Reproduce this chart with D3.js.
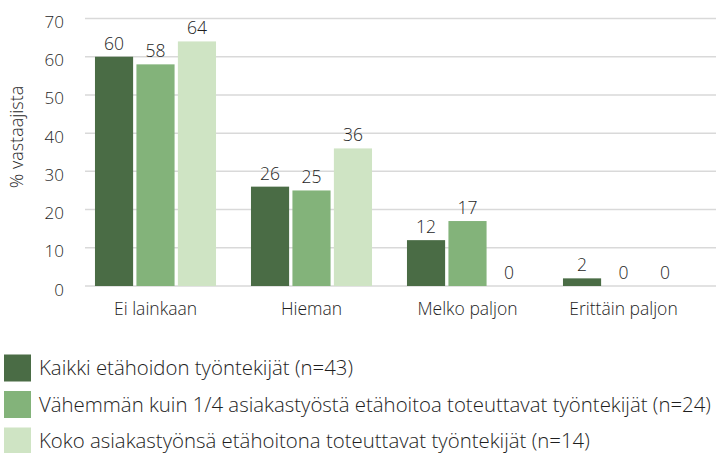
<!DOCTYPE html>
<html>
<head>
<meta charset="utf-8">
<script src="https://cdn.jsdelivr.net/npm/d3@7"></script>
<style>
	body { margin: 0; background: #fff; }
	svg { display: block; font-family: 'Open Sans', 'Liberation Sans', sans-serif; font-weight: 300; }
</style>
</head>
<body>
<div id="chart"></div>
<script>
// Categories on the x axis
const categories = ['Ei lainkaan', 'Hieman', 'Melko paljon', 'Erittäin paljon'];

// Series names (legend)
const seriesNames = [
	'Kaikki etähoidon työntekijät (n=43)',
	'Vähemmän kuin 1/4 asiakastyöstä etähoitoa toteuttavat työntekijät (n=24)',
	'Koko asiakastyönsä etähoitona toteuttavat työntekijät (n=14)'
];

// Values per series, in category order
const kaikki = [60, 26, 12, 2];
const vahemman = [58, 25, 17, 0];
const koko = [64, 36, 0, 0];

const yTicks = [0, 10, 20, 30, 40, 50, 60, 70];

const colors = ['#4a6c45', '#83b37a', '#cfe4c4'];

function createChart() {
	d3.select('#chart').html('');

	const width = 718;
	const height = 453;

	const series = [kaikki, vahemman, koko];
	const rows = categories.map((c, i) => ({
		cat: c,
		vals: series.map((s, j) => ({ key: j, value: s[i] }))
	}));

	const svg = d3
		.select('#chart')
		.append('svg')
		.attr('width', width)
		.attr('height', height);

	// Scales
	const x0 = d3
		.scaleBand()
		.domain(categories)
		.range([77.5, 701.5])
		.paddingInner(0.224)
		.paddingOuter(0.112);

	const x1 = d3
		.scaleBand()
		.domain([0, 1, 2])
		.range([0, x0.bandwidth()])
		.paddingInner(0.08);

	const y = d3.scaleLinear().domain([0, 70]).range([286, 18.5]);

	// Gridlines
	svg.append('g')
		.selectAll('line')
		.data(yTicks)
		.enter()
		.append('line')
		.attr('x1', 85)
		.attr('x2', 716)
		.attr('y1', (d) => y(d))
		.attr('y2', (d) => y(d))
		.attr('stroke', '#d9d9d9')
		.attr('stroke-width', 1.5);

	// Y tick labels
	svg.append('g')
		.selectAll('text')
		.data(yTicks)
		.enter()
		.append('text')
		.attr('x', 64)
		.attr('y', (d) => y(d) + 9.5)
		.attr('text-anchor', 'end')
		.style('font-size', '17px')
		.style('fill', '#1e1e1e')
		.text((d) => d);

	// Y axis title
	svg.append('text')
		.attr('transform', 'translate(23,137) rotate(-90)')
		.attr('text-anchor', 'middle')
		.style('font-size', '18px')
		.style('fill', '#1e1e1e')
		.text('% vastaajista');

	// Bars
	const group = svg
		.selectAll('g.cat')
		.data(rows)
		.enter()
		.append('g')
		.attr('class', 'cat')
		.attr('transform', (d) => `translate(${x0(d.cat)},0)`);

	group.selectAll('rect')
		.data((d) => d.vals)
		.enter()
		.append('rect')
		.attr('x', (d) => x1(d.key))
		.attr('y', (d) => y(d.value))
		.attr('width', x1.bandwidth())
		.attr('height', (d) => y(0) - y(d.value))
		.attr('fill', (d) => colors[d.key]);

	// Value labels
	group.selectAll('text')
		.data((d) => d.vals)
		.enter()
		.append('text')
		.attr('x', (d) => x1(d.key) + x1.bandwidth() / 2)
		.attr('y', (d) => y(d.value) - 7)
		.attr('text-anchor', 'middle')
		.style('font-size', '17.5px')
		.style('fill', '#1e1e1e')
		.text((d) => d.value);

	// Category labels
	svg.append('g')
		.selectAll('text')
		.data(categories)
		.enter()
		.append('text')
		.attr('x', (d) => x0(d) + x0.bandwidth() / 2)
		.attr('y', 315)
		.attr('text-anchor', 'middle')
		.style('font-size', '17.5px')
		.style('fill', '#1e1e1e')
		.text((d) => d);

	// Legend
	const legend = svg
		.selectAll('g.legend')
		.data(seriesNames)
		.enter()
		.append('g')
		.attr('class', 'legend')
		.attr('transform', (d, i) => `translate(4,${354.5 + i * 36.5})`);

	legend.append('rect')
		.attr('width', 27)
		.attr('height', 27)
		.attr('fill', (d, i) => colors[i]);

	legend.append('text')
		.attr('x', 35)
		.attr('y', 20.5)
		.style('font-size', '20.4px')
		.style('fill', '#1e1e1e')
		.text((d) => d);
}

createChart();
</script>
</body>
</html>
